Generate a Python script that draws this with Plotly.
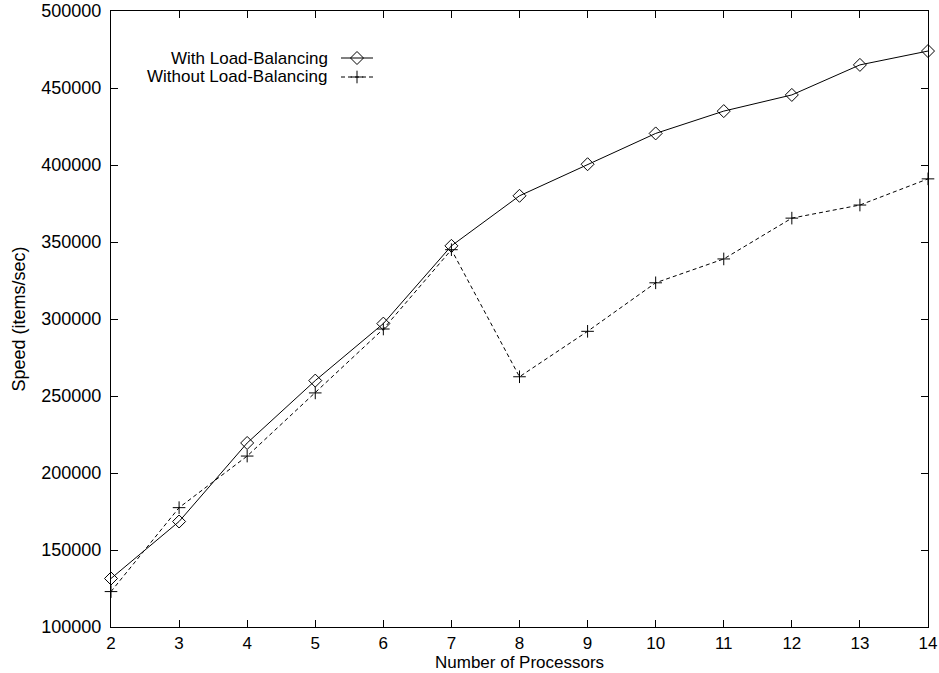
import plotly.graph_objects as go

processors = [2, 3, 4, 5, 6, 7, 8, 9, 10, 11, 12, 13, 14]
with_lb = [131500, 168500, 219500, 260000, 297000, 347500, 380000, 400500, 420500, 435000, 445500, 465000, 474000]
without_lb = [123000, 177500, 211000, 252000, 293500, 345000, 262500, 292000, 323500, 339000, 365500, 374000, 391000]
series_names = ["With Load-Balancing", "Without Load-Balancing"]
y_ticks = [100000, 150000, 200000, 250000, 300000, 350000, 400000, 450000, 500000]
x_title = "Number of Processors"
y_title = "Speed (items/sec)"

W, H = 939, 673
L, R, T, B = 111, 11, 11, 46
pw, ph = W - L - R, H - T - B

FAM = "Liberation Sans, Arial, sans-serif"
font = dict(family=FAM, size=18, color="black")
xfont = dict(family=FAM, size=17, color="black")
legend_font = dict(family=FAM, size=17, color="black")

fig = go.Figure()
fig.add_trace(go.Scatter(x=processors, y=with_lb, mode="lines+markers", name=series_names[0],
                         line=dict(color="black", width=1),
                         marker=dict(symbol="diamond-open", size=10, color="black", line=dict(width=1)),
                         showlegend=False, cliponaxis=False))
fig.add_trace(go.Scatter(x=processors, y=without_lb, mode="lines+markers", name=series_names[1],
                         line=dict(color="black", width=1, dash="4px,3px"),
                         marker=dict(symbol="cross-thin", size=9, color="black", line=dict(width=1, color="black")),
                         showlegend=False, cliponaxis=False))

# legend samples (gnuplot style: text on left, sample on right) on a hidden pixel-coordinate overlay axis
rows = [(58, series_names[0], None, "diamond-open", 10), (77, series_names[1], "4px,3px", "cross-thin", 9)]
for py, name, dash, sym, sz in rows:
    fig.add_trace(go.Scatter(x=[341, 373], y=[py, py], mode="lines", xaxis="x2", yaxis="y2",
                             line=dict(color="black", width=1, dash=dash), showlegend=False, hoverinfo="skip"))
    fig.add_trace(go.Scatter(x=[357], y=[py], mode="markers", xaxis="x2", yaxis="y2",
                             marker=dict(symbol=sym, size=sz, color="black", line=dict(width=1, color="black")),
                             showlegend=False, hoverinfo="skip"))
    fig.add_annotation(x=(329 - L) / pw, y=(H - B - py) / ph, xref="paper", yref="paper",
                       text=name, showarrow=False, xanchor="right", yanchor="middle", font=legend_font,
                       borderpad=0)

# x axis title placed at the bottom of the page
fig.add_annotation(x=0.5, y=-B / ph, xref="paper", yref="paper", text=x_title, showarrow=False,
                   xanchor="center", yanchor="bottom", font=xfont, borderpad=0)

axis_common = dict(showgrid=False, zeroline=False, ticks="inside", ticklen=7, tickwidth=1,
                   tickcolor="black", showline=True, linecolor="black", linewidth=1.3,
                   mirror="ticks", automargin=False)

fig.update_layout(
    width=W, height=H,
    margin=dict(l=L, r=R, t=T, b=B),
    paper_bgcolor="white", plot_bgcolor="white",
    font=font,
    xaxis=dict(range=[2, 14], tickmode="array", tickvals=processors, ticktext=[str(p) for p in processors],
               ticklabelstandoff=0, tickfont=xfont, **axis_common),
    yaxis=dict(range=[100000, 500000], tickmode="array", tickvals=y_ticks, ticktext=[str(v) for v in y_ticks],
               ticklabelstandoff=5, tickfont=font,
               title=dict(text=y_title, font=font, standoff=10), **axis_common),
    xaxis2=dict(overlaying="x", range=[L, W - R], visible=False, fixedrange=True),
    yaxis2=dict(overlaying="y", range=[H - B, T], visible=False, fixedrange=True),
)

fig.write_html("out.html", config={"displayModeBar": False},
               post_script="document.body.style.margin='0';document.body.style.overflow='hidden';")
